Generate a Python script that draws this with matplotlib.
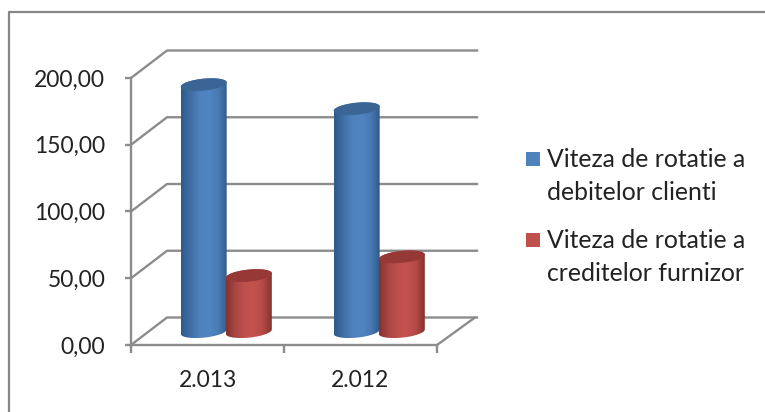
import numpy as np
import matplotlib
matplotlib.use('Agg')
import matplotlib.pyplot as plt
from matplotlib.colors import LinearSegmentedColormap
from matplotlib.patches import PathPatch, Rectangle
from matplotlib.path import Path

categories = ['2.013', '2.012']
debitori = [185, 167]
creditori = [42, 56]
series_names = ['Viteza de rotatie a\ndebitelor clienti', 'Viteza de rotatie a\ncreditelor furnizor']
y_ticks = [0, 50, 100, 150, 200]
y_labels = ['0,00', '50,00', '100,00', '150,00', '200,00']

W, H = 765, 412
plt.rcParams['font.family'] = ['Lato', 'DejaVu Sans']
GRID = '#8c8c8c'
TEXT = '#222222'

fig = plt.figure(figsize=(W / 100, H / 100), dpi=100)
# front plane of the 3d box, in pixels
ax = fig.add_axes([131 / W, 1 - 345 / H, 306 / W, 267 / H])
ax.patch.set_alpha(0)
ax.set_xlim(0, 2)
ax.set_ylim(0, 200)

px_x = 153.0        # pixels per category
px_y = 267 / 200    # pixels per unit
depth_x = 36 / px_x
depth_y = 27.5 / px_y
wall_end = 2 + 40 / px_x

# outer frame, only top and left are visible
fig.add_artist(plt.Line2D([9 / W, 9 / W, 1], [0, 1 - 12 / H, 1 - 12 / H], color='#868686', lw=1.6))

# walls
for v in y_ticks:
    ax.plot([0, depth_x, wall_end], [v, v + depth_y, v + depth_y], color=GRID, lw=1.7, clip_on=False, zorder=1)
ax.plot([2, 2 + 38 / px_x], [0, depth_y], color=GRID, lw=1.7, clip_on=False, zorder=1)

for s in ['top', 'right']:
    ax.spines[s].set_visible(False)
for s in ['left', 'bottom']:
    ax.spines[s].set_color(GRID)
    ax.spines[s].set_linewidth(1.7)
    ax.spines[s].set_zorder(1)

ax.set_yticks(y_ticks)
ax.set_yticklabels(y_labels)
ax.set_xticks([0, 1, 2])
ax.set_xticklabels([])
ax.set_xticks([0.5, 1.5], minor=True)
ax.set_xticklabels(categories, minor=True)
ax.tick_params(axis='y', length=4.5, width=1.7, color=GRID, labelsize=16.5, labelcolor=TEXT, pad=14)
ax.tick_params(axis='x', which='major', length=6, width=1.7, color=GRID)
ax.tick_params(axis='x', which='minor', length=0, labelsize=16.5, labelcolor=TEXT, pad=18)

blue = LinearSegmentedColormap.from_list('b', ['#2f5a88', '#3f6fa6', '#4f81bd', '#5085c4', '#4a7ab4', '#2f5a88'])
red = LinearSegmentedColormap.from_list('r', ['#85322f', '#a94643', '#c0504d', '#c4524f', '#b54a47', '#85322f'])


def ellipse_xy(cx, cy, t):
    # flattened ellipse, sheared a bit so the right side sits higher
    a = 23 / px_x
    b = 6 / px_y
    return cx + a * np.cos(t), cy + b * np.sin(t) + 2.2 / px_y * np.cos(t)


def cylinder(cx, value, cmap, top_color):
    base = 10
    top = base + value
    a = 23 / px_x
    t1 = np.linspace(np.pi, 2 * np.pi, 40)
    t2 = np.linspace(0, np.pi, 40)
    bx, by = ellipse_xy(cx, base, t1)
    tx, ty = ellipse_xy(cx, top, t2)
    verts = np.vstack([np.column_stack([bx, by]), np.column_stack([tx, ty]), [[bx[0], by[0]]]])
    clip = PathPatch(Path(verts), transform=ax.transData, fc='none', ec='none')
    ax.add_patch(clip)
    grad = np.linspace(0, 1, 128).reshape(1, -1)
    im = ax.imshow(grad, cmap=cmap, aspect='auto', zorder=3, extent=[cx - a, cx + a, base - 10, top + 10], interpolation='bilinear')
    im.set_clip_path(clip)
    ex, ey = ellipse_xy(cx, top, np.linspace(0, 2 * np.pi, 80))
    ax.fill(ex, ey, color=top_color, lw=0, zorder=4, clip_on=False)


for i in range(len(categories)):
    cylinder(i + 0.475, debitori[i], blue, '#3b6594')
    cylinder(i + 0.77, creditori[i], red, '#953836')

ax.set_xlim(0, 2)
ax.set_ylim(0, 200)

# legend
for name, top_px, col in zip(series_names, [145, 226], ['#4f81bd', '#c0504d']):
    fig.add_artist(Rectangle((526 / W, 1 - (top_px + 21) / H), 14 / W, 14 / H, color=col, transform=fig.transFigure, lw=0))
    fig.text(547 / W, 1 - (top_px + 31) / H, name, fontsize=17.8, color=TEXT, va='center', ha='left', linespacing=1.55)

fig.savefig('out.png', dpi=100)
